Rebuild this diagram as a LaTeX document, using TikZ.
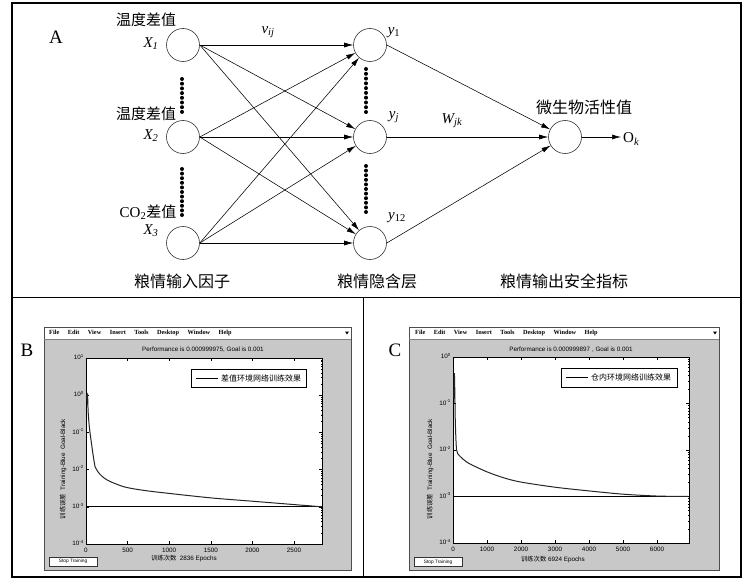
\documentclass[tikz,border=0pt]{standalone}
\usepackage{fontspec}
\setmainfont{Liberation Serif}
\setsansfont{Liberation Sans}
\newfontfamily\cjk{Noto Sans CJK SC}
\usetikzlibrary{arrows.meta}
\definecolor{mlgray}{RGB}{200,200,200}
\begin{document}
\begin{tikzpicture}[x=1pt,y=-1pt,
  neuron/.style={circle, draw=black!80, line width=0.6pt, minimum size=33pt, inner sep=0pt},
  conn/.style={line width=0.55pt, -{Latex[length=9pt,width=5pt]}},
  cjklab/.style={font=\cjk\fontsize{15}{15}\selectfont, inner sep=0pt},
  cjkbig/.style={font=\cjk\fontsize{16}{16}\selectfont, inner sep=0pt},
  varlab/.style={font=\fontsize{15}{15}\selectfont\itshape, inner sep=0pt},
  panlab/.style={font=\fontsize{19}{19}\selectfont, inner sep=0pt},
  mltext/.style={font=\sffamily\fontsize{6.3}{6.3}\selectfont, inner sep=0pt},
  menu/.style={font=\rmfamily\bfseries\fontsize{6.3}{6.3}\selectfont, inner sep=0pt},
  legtext/.style={font=\cjk\fontsize{8}{8}\selectfont, inner sep=0pt},
  btn/.style={draw=black!80, fill=white, line width=0.5pt, minimum width=48pt, minimum height=9pt, inner sep=0pt, font=\sffamily\fontsize{4.8}{4.8}\selectfont},
  tick/.style={line width=0.4pt},
  goal/.style={line width=1.1pt},
  curve/.style={line width=1pt, black!85}
]
\useasboundingbox (0,0) rectangle (742,578);
% frame
\draw[line width=1.2pt] (12,3) rectangle (741,577);
\draw[line width=1pt] (12,297) -- (741,297);
\draw[line width=1pt] (363,297) -- (363,577);

% ---------------- panel A ----------------
\node[panlab] (labA) at (56,37) {A};
\node[neuron] (x1) at (183,45) {};
\node[neuron] (x2) at (183,137) {};
\node[neuron] (x3) at (183,243) {};
\node[neuron] (h1) at (370,45) {};
\node[neuron] (hj) at (370,137) {};
\node[neuron] (h12) at (370,243) {};
\node[neuron] (out) at (565,137) {};
\coordinate (okend) at (621,137);

\foreach \a in {x1,x2,x3}
  \foreach \b in {h1,hj,h12}
    \draw[conn] (\a.east) -- (\b);
\foreach \b in {h1,hj,h12}
  \draw[conn] (\b.east) -- (out);
\draw[conn] (out.east) -- (okend);

% thick dotted columns
\foreach \s in {0,...,7}
  \fill (182,79+4.7*\s) circle[radius=2pt];
\foreach \s in {0,...,10}
  \fill (182,169+4.6*\s) circle[radius=2pt];
\foreach \s in {0,...,9}
  \fill (366,69+4.78*\s) circle[radius=2pt];
\foreach \s in {0,...,10}
  \fill (366,166+4.6*\s) circle[radius=2pt];

\node[cjklab] (t1) at (146,20) {温度差值};
\node[varlab] (lx1) at (151,44) {X\textsubscript{1}};
\node[cjklab] (t2) at (146,114) {温度差值};
\node[varlab] (lx2) at (151,136) {X\textsubscript{2}};
\node[inner sep=0pt] (t3) at (148,212) {\fontsize{15}{15}\selectfont CO\textsubscript{2}\cjk 差值};
\node[varlab] (lx3) at (151,231) {X\textsubscript{3}};
\node[varlab] (vij) at (268,32) {v\textsubscript{ij}};
\node[varlab] (ly1) at (394,33) {y\textsubscript{\upshape 1}};
\node[varlab] (lyj) at (394,117) {y\textsubscript{j}};
\node[varlab] (ly12) at (397,218) {y\textsubscript{\upshape 12}};
\node[varlab] (wjk) at (452,121) {W\textsubscript{jk}};
\node[cjkbig] (tout) at (584,107) {微生物活性值};
\node[inner sep=0pt, anchor=west] (okl) at (623,139) {\fontsize{15}{15}\selectfont O\textsubscript{\itshape k}};
\node[cjkbig] (b1) at (182,281) {粮情输入因子};
\node[cjkbig] (b2) at (377,281) {粮情隐含层};
\node[cjkbig] (b3) at (564,281) {粮情输出安全指标};

% ---------------- panel B ----------------
\node[panlab] (labB) at (27,350) {B};
\filldraw[fill=mlgray, draw=black!70, line width=0.8pt] (44,327) rectangle (351,570);
\fill[white] (44.5,327.5) rectangle (350.5,339);
\draw[black!50, line width=0.4pt] (44,339) -- (351,339);
\node[menu, anchor=west] (menuB) at (49,333) {File\hspace{8.5pt}Edit\hspace{8.5pt}View\hspace{8.5pt}Insert\hspace{8.5pt}Tools\hspace{8.5pt}Desktop\hspace{8.5pt}Window\hspace{8.5pt}Help};
\fill (345,331.5) -- (349,331.5) -- (347,334.5) -- cycle;
\node[mltext] (titB) at (203,350) {Performance is 0.000999975, Goal is 0.001};
\filldraw[fill=white, draw=black, line width=0.5pt] (86,358) rectangle (322,544);
\foreach \k/\lab in {0/0,1/500,2/1000,3/1500,4/2000,5/2500} {
  \draw[tick] (86+41.6*\k,544) -- (86+41.6*\k,541);
  \draw[tick] (86+41.6*\k,358) -- (86+41.6*\k,361);
  \node[mltext] at (86+41.6*\k,550) {\lab};
}
\foreach \i/\lab in {0/1,1/0,2/-1,3/-2,4/-3,5/-4} {
  \draw[tick] (86,358+37.2*\i) -- (89,358+37.2*\i);
  \draw[tick] (322,358+37.2*\i) -- (319,358+37.2*\i);
  \node[mltext, anchor=east] at (84,357+37.2*\i) {10\textsuperscript{\lab}};
}
\foreach \i in {0,...,4}
  \foreach \m in {0.301,0.477,0.602,0.699,0.778,0.845,0.903,0.954}
    \draw[line width=0.3pt] (322,358+37.2*\i+37.2-37.2*\m) -- (320.5,358+37.2*\i+37.2-37.2*\m);
\begin{scope}[shift={(86,358)}, x=0.0832pt, y=-37.2pt]
  \draw[goal] (0,4) -- (2836,4);
  \draw[curve] plot[smooth, tension=0.5] coordinates {
    (4,1.05) (10,1.0) (14,1.25) (20,1.05) (26,1.45) (40,1.85) (60,2.2) (85,2.6)
    (110,2.93) (135,3.03) (170,3.13) (220,3.23) (300,3.33) (470,3.47) (700,3.56)
    (1000,3.64) (1500,3.76) (2000,3.85) (2500,3.94) (2836,4.0)};
\end{scope}
\draw[fill=white, line width=0.5pt] (191,369) rectangle (306,387);
\draw[line width=0.6pt] (196,378) -- (218,378);
\node[legtext, anchor=west] (legB) at (221,378) {差值环境网络训练效果};
\node[mltext, rotate=90] (ylB) at (63,469) {{\cjk 训练误差}\ \ Training-Blue\ \ Goal-Black};
\node[mltext] (xlB) at (184,558) {{\cjk 训练次数}\ \ 2836 Epochs};
\node[btn] (stopB) at (73,561.5) {Stop Training};

% ---------------- panel C ----------------
\node[panlab] (labC) at (395,350) {C};
\filldraw[fill=mlgray, draw=black!70, line width=0.8pt] (409,327) rectangle (719,570);
\fill[white] (409.5,327.5) rectangle (718.5,339);
\draw[black!50, line width=0.4pt] (409,339) -- (719,339);
\node[menu, anchor=west] (menuC) at (415,333) {File\hspace{8.5pt}Edit\hspace{8.5pt}View\hspace{8.5pt}Insert\hspace{8.5pt}Tools\hspace{8.5pt}Desktop\hspace{8.5pt}Window\hspace{8.5pt}Help};
\fill (713,331.5) -- (717,331.5) -- (715,334.5) -- cycle;
\node[mltext] (titC) at (571,350) {Performance is 0.000999897 , Goal is 0.001};
\filldraw[fill=white, draw=black, line width=0.5pt] (453,357) rectangle (689,543);
\foreach \k/\lab in {0/0,1/1000,2/2000,3/3000,4/4000,5/5000,6/6000} {
  \draw[tick] (453+34*\k,543) -- (453+34*\k,540);
  \draw[tick] (453+34*\k,357) -- (453+34*\k,360);
  \node[mltext] at (453+34*\k,549) {\lab};
}
\foreach \i/\lab in {0/0,1/-1,2/-2,3/-3,4/-4} {
  \draw[tick] (453,357+46.5*\i) -- (456,357+46.5*\i);
  \draw[tick] (689,357+46.5*\i) -- (686,357+46.5*\i);
  \node[mltext, anchor=east] at (451,356+46.5*\i) {10\textsuperscript{\lab}};
}
\foreach \i in {0,...,3}
  \foreach \m in {0.301,0.477,0.602,0.699,0.778,0.845,0.903,0.954}
    \draw[line width=0.3pt] (689,357+46.5*\i+46.5-46.5*\m) -- (687.5,357+46.5*\i+46.5-46.5*\m);
\begin{scope}[shift={(453,357)}, x=0.034pt, y=-46.5pt]
  \draw[goal] (0,3) -- (6924,3);
  \draw[curve] plot[smooth, tension=0.5] coordinates {
    (25,0.9) (40,0.35) (55,0.8) (65,1.3) (85,1.75) (105,2.0) (140,2.08) (300,2.2)
    (500,2.3) (1000,2.47) (1500,2.6) (2000,2.69) (3000,2.8) (4000,2.88)
    (5000,2.95) (6000,2.99) (6924,3.0)};
\end{scope}
\draw[fill=white, line width=0.5pt] (561,368) rectangle (677,387);
\draw[line width=0.6pt] (566,377.5) -- (588,377.5);
\node[legtext, anchor=west] (legC) at (591,377.5) {仓内环境网络训练效果};
\node[mltext, rotate=90] (ylC) at (430,469) {{\cjk 训练误差}\ \ Training-Blue\ \ Goal-Black};
\node[mltext] (xlC) at (553,559) {{\cjk 训练次数} 6924 Epochs};
\node[btn] (stopC) at (438,562) {Stop Training};
\end{tikzpicture}
\end{document}
